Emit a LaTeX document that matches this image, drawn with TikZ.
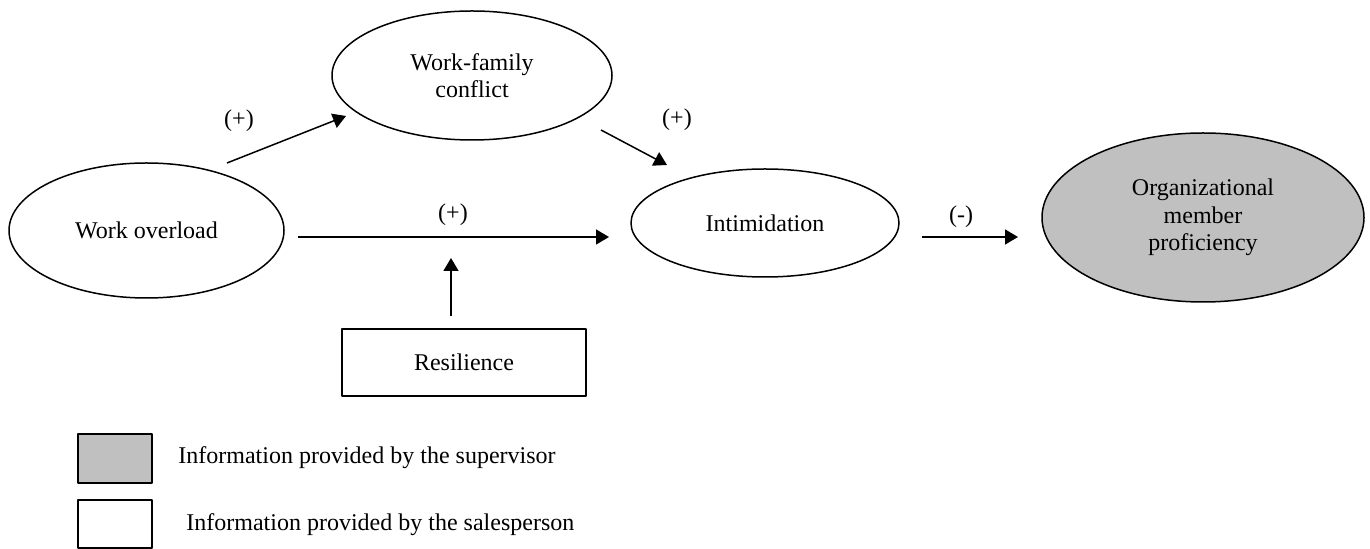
\documentclass[tikz,border=0pt]{standalone}
\usepackage{fontspec}
\setmainfont{Liberation Serif}
\usetikzlibrary{arrows.meta,shapes.geometric}
\definecolor{supgray}{RGB}{192,192,192}
\tikzset{
	var/.style={draw, ellipse, line width=0.75pt, inner sep=0pt, align=center},
	box/.style={draw, rectangle, line width=0.75pt, inner sep=0pt},
}

\begin{document}
\begin{tikzpicture}[x=0.5pt, y=-0.5pt, font=\fontsize{12}{13.7}\selectfont, line join=round, >={Triangle[length=6.5pt,width=7.5pt]}]
	\useasboundingbox (0,0) rectangle (1370,549);
	% constructs
	\node[var, minimum width=137.5pt, minimum height=67.5pt] (overload) at (146.5,230.5) {Work overload};
	\node[var, minimum width=140pt, minimum height=64.5pt] (conflict) at (472,75.5) {Work-family\\conflict};
	\node[var, minimum width=134pt, minimum height=54pt] (intim) at (765,223) {Intimidation};
	\node[var, fill=supgray, minimum width=161pt, minimum height=84.5pt] (prof) at (1203,217.5) {Organizational\\member\\proficiency};
	\node[box, minimum width=122pt, minimum height=33.5pt] (resil) at (464,362.5) {Resilience};
	% arrow ends
	\path
	(227,163) coordinate (A1) (346,116) coordinate (B1)
	(601,130) coordinate (A2) (667,165) coordinate (B2)
	(298,237) coordinate (A3) (609,237) coordinate (B3)
	(451,316) coordinate (A4) (451,258) coordinate (B4)
	(922,237) coordinate (A5) (1018,237) coordinate (B5)
	;
	\foreach \x/\y in {A1/B1,A2/B2,A3/B3,A4/B4,A5/B5}
	\draw[->, line width=0.75pt] (\x)--(\y);
	% signs
	\foreach \p/\s in {{(239,121)}/(+),{(677,120)}/(+),{(453,215)}/(+),{(961,217)}/(-)}
	\node at \p {\s};
	% legend
	\node[box, fill=supgray, minimum width=37pt, minimum height=24.5pt] (keysup) at (115,458.5) {};
	\node[box, minimum width=37pt, minimum height=24pt] (keysal) at (115,524) {};
	\node[anchor=west, inner sep=0pt] (txtsup) at (178,458) {Information provided by the supervisor};
	\node[anchor=west, inner sep=0pt] (txtsal) at (186,525) {Information provided by the salesperson};
\end{tikzpicture}
\end{document}
